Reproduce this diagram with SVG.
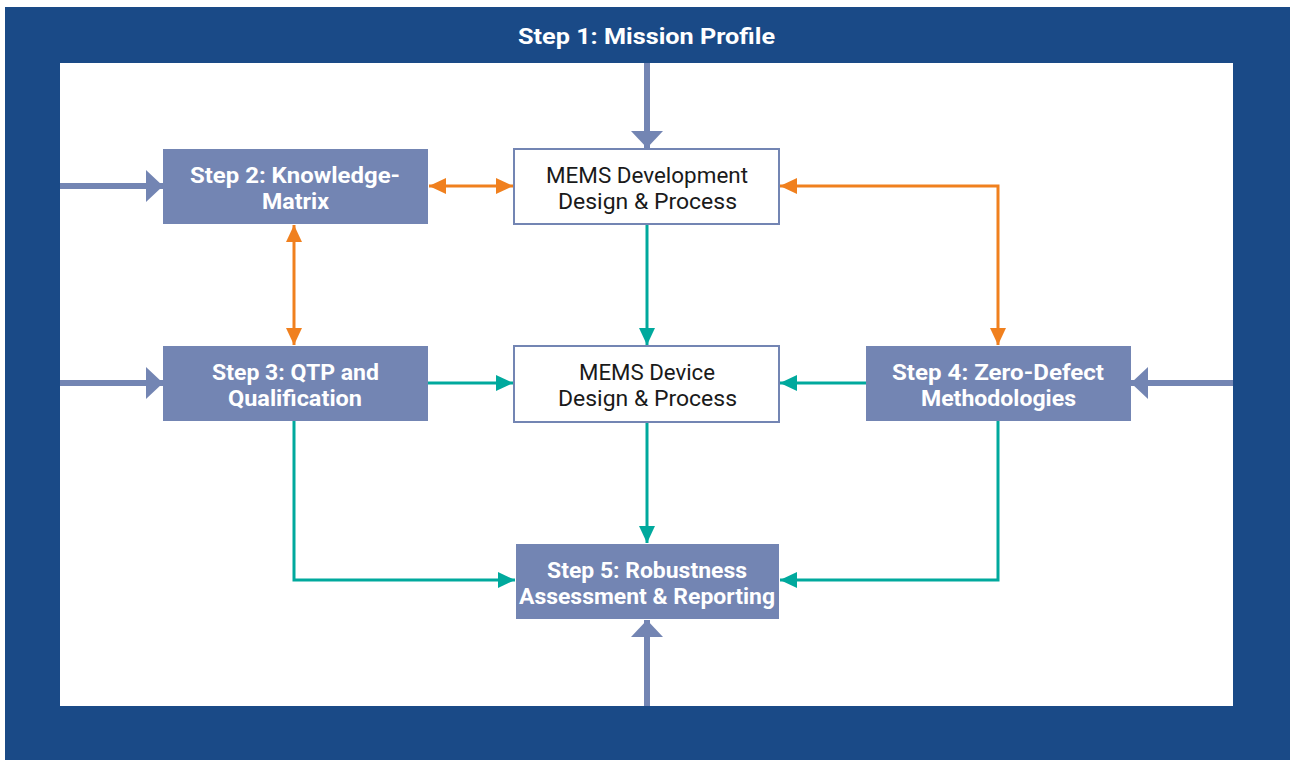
<svg xmlns="http://www.w3.org/2000/svg" width="1290" height="760" viewBox="0 0 1290 760">
<style>
.step{fill:#7385b3}
.mems{fill:#fff;stroke:#7385b3;stroke-width:2}
.st{font-family:Roboto,"Liberation Sans",sans-serif;font-weight:bold;font-size:22px;fill:#fff;text-anchor:middle}
.mt{font-family:Roboto,"Liberation Sans",sans-serif;font-size:22px;fill:#1a1a1a;text-anchor:middle}
.or{fill:none;stroke:#f0801e;stroke-width:3}
.te{fill:none;stroke:#00a99d;stroke-width:3}
.bl{fill:none;stroke:#7385b3;stroke-width:6}
</style>
<defs>
<marker id="ao" markerUnits="userSpaceOnUse" markerWidth="18" markerHeight="16" refX="17" refY="8" orient="auto-start-reverse"><path d="M0,0 L17,8 L0,16 Z" fill="#f0801e"/></marker>
<marker id="at" markerUnits="userSpaceOnUse" markerWidth="18" markerHeight="16" refX="17" refY="8" orient="auto-start-reverse"><path d="M0,0 L17,8 L0,16 Z" fill="#00a99d"/></marker>
<marker id="ab" markerUnits="userSpaceOnUse" markerWidth="18" markerHeight="32" refX="17" refY="16" orient="auto"><path d="M0,0 L17,16 L0,32 Z" fill="#7385b3"/></marker>
</defs>
<rect x="5" y="7" width="1285" height="753" fill="#1a4a87"/>
<rect x="60" y="63" width="1173" height="643" fill="#fff"/>
<text class="st" x="646.5" y="44" font-size="24" textLength="257" lengthAdjust="spacingAndGlyphs">Step 1: Mission Profile</text>
<g id="connectors">
<line class="bl" x1="647" y1="63" x2="647" y2="148" marker-end="url(#ab)"/>
<line class="bl" x1="60" y1="186" x2="163" y2="186" marker-end="url(#ab)"/>
<line class="bl" x1="60" y1="383" x2="163" y2="383" marker-end="url(#ab)"/>
<line class="bl" x1="1233" y1="383" x2="1131" y2="383" marker-end="url(#ab)"/>
<line class="bl" x1="647" y1="706" x2="647" y2="620" marker-end="url(#ab)"/>
<line class="or" x1="429" y1="186" x2="513" y2="186" marker-start="url(#ao)" marker-end="url(#ao)"/>
<line class="or" x1="294" y1="225" x2="294" y2="345" marker-start="url(#ao)" marker-end="url(#ao)"/>
<polyline class="or" points="780,186 998,186 998,345" marker-start="url(#ao)" marker-end="url(#ao)"/>
<line class="te" x1="647" y1="225" x2="647" y2="345" marker-end="url(#at)"/>
<line class="te" x1="428" y1="383" x2="513" y2="383" marker-end="url(#at)"/>
<line class="te" x1="866" y1="383" x2="780" y2="383" marker-end="url(#at)"/>
<line class="te" x1="647" y1="423" x2="647" y2="543" marker-end="url(#at)"/>
<polyline class="te" points="294,421 294,580 515,580" marker-end="url(#at)"/>
<polyline class="te" points="998,421 998,580 780,580" marker-end="url(#at)"/>
</g>
<g id="step2"><rect class="step" x="163" y="149" width="265" height="75"/><text class="st" x="295" y="183" textLength="210" lengthAdjust="spacingAndGlyphs">Step 2: Knowledge-</text><text class="st" x="295.5" y="209" textLength="67" lengthAdjust="spacingAndGlyphs">Matrix</text></g>
<g id="memsdev"><rect class="mems" x="514" y="149" width="265" height="75"/><text class="mt" x="647" y="183" textLength="202" lengthAdjust="spacingAndGlyphs">MEMS Development</text><text class="mt" x="647.5" y="209" textLength="179" lengthAdjust="spacingAndGlyphs">Design &amp; Process</text></g>
<g id="step3"><rect class="step" x="163" y="346" width="265" height="75"/><text class="st" x="295.5" y="380" textLength="167" lengthAdjust="spacingAndGlyphs">Step 3: QTP and</text><text class="st" x="295" y="406" textLength="134" lengthAdjust="spacingAndGlyphs">Qualification</text></g>
<g id="memsdevice"><rect class="mems" x="514" y="346" width="265" height="76"/><text class="mt" x="647" y="380" textLength="136" lengthAdjust="spacingAndGlyphs">MEMS Device</text><text class="mt" x="647.5" y="406" textLength="179" lengthAdjust="spacingAndGlyphs">Design &amp; Process</text></g>
<g id="step4"><rect class="step" x="866" y="346" width="265" height="75"/><text class="st" x="998" y="380" textLength="212" lengthAdjust="spacingAndGlyphs">Step 4: Zero-Defect</text><text class="st" x="998.5" y="406" textLength="155" lengthAdjust="spacingAndGlyphs">Methodologies</text></g>
<g id="step5"><rect class="step" x="516" y="544" width="263" height="75"/><text class="st" x="647" y="578" textLength="200" lengthAdjust="spacingAndGlyphs">Step 5: Robustness</text><text class="st" x="647" y="604" textLength="256" lengthAdjust="spacingAndGlyphs">Assessment &amp; Reporting</text></g>
</svg>
